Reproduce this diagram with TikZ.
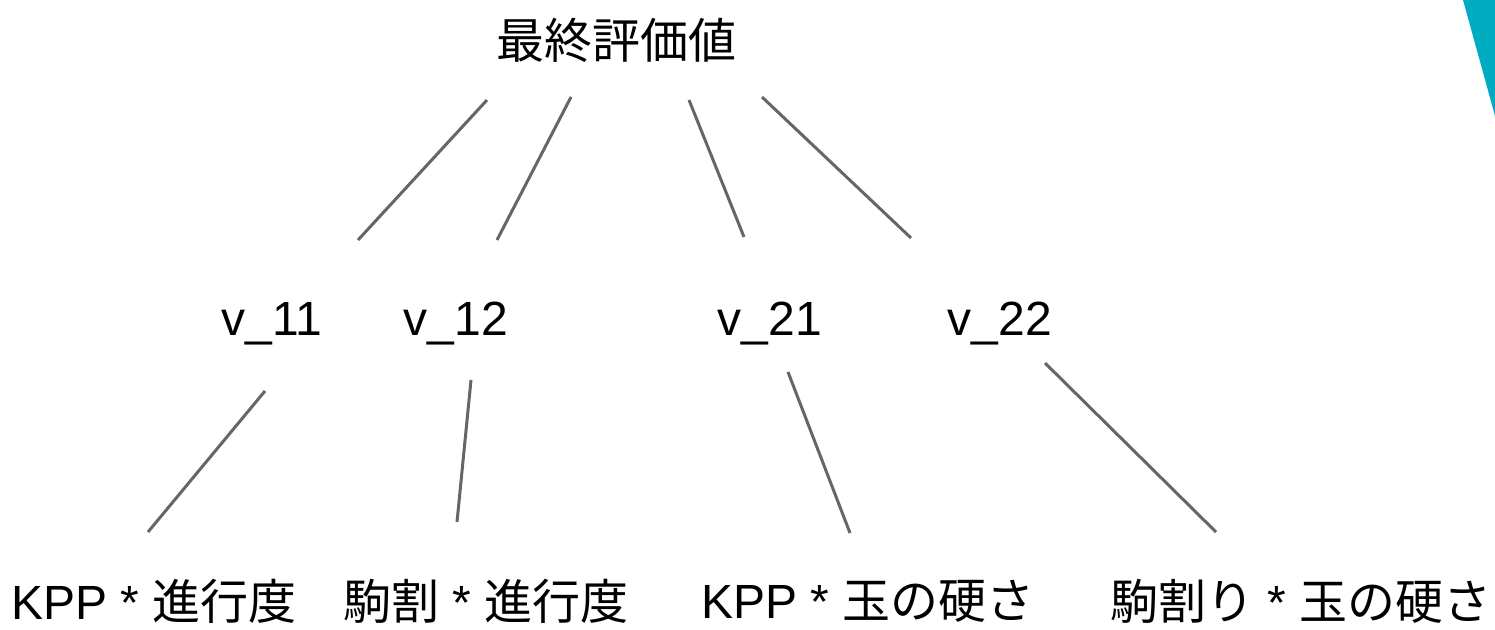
\documentclass[tikz,border=0pt]{standalone}
\usepackage{fontspec}
\setmainfont{Liberation Sans}
\newfontfamily\cjk{Noto Sans CJK JP}
\definecolor{edgegray}{HTML}{666666}
\definecolor{accent}{HTML}{00ACC1}
\begin{document}
\begin{tikzpicture}[x=1pt,y=-1pt,
  lbl/.style={font=\fontsize{48}{56}\selectfont, inner sep=0pt, anchor=center},
  edge/.style={draw=edgegray, line width=3pt}]
\useasboundingbox (0,0) rectangle (1495,629);
% accent triangle
\fill[accent] (1463,0) -- (1495,0) -- (1495,116) -- cycle;
% nodes
\node[lbl] (root) at (616,40) {\cjk 最終評価値};
\node[lbl] (v11) at (272,324) {v\_11};
\node[lbl] (v12) at (456,324) {v\_12};
\node[lbl] (v21) at (770,324) {v\_21};
\node[lbl] (v22) at (1000,324) {v\_22};
\node[lbl] (l1) at (154,601) {KPP * {\cjk 進行度}};
\node[lbl] (l2) at (486,601) {{\cjk 駒割} * {\cjk 進行度}};
\node[lbl] (l3) at (868,601) {KPP * {\cjk 玉の硬さ}};
\node[lbl] (l4) at (1301,601) {{\cjk 駒割り} * {\cjk 玉の硬さ}};
% connector end points
\coordinate (r1) at (487,100); \coordinate (a1) at (358,240);
\coordinate (r2) at (571,97);  \coordinate (a2) at (497,240);
\coordinate (r3) at (689,100); \coordinate (a3) at (744,237);
\coordinate (r4) at (762,97);  \coordinate (a4) at (911,238);
\coordinate (b1) at (265,391); \coordinate (c1) at (148,532);
\coordinate (b2) at (471,380); \coordinate (c2) at (457,522);
\coordinate (b3) at (788,372); \coordinate (c3) at (850,533);
\coordinate (b4) at (1045,363); \coordinate (c4) at (1216,532);
\draw[edge] (r1) -- (a1);
\draw[edge] (r2) -- (a2);
\draw[edge] (r3) -- (a3);
\draw[edge] (r4) -- (a4);
\draw[edge] (b1) -- (c1);
\draw[edge] (b2) -- (c2);
\draw[edge] (b3) -- (c3);
\draw[edge] (b4) -- (c4);
\end{tikzpicture}
\end{document}
